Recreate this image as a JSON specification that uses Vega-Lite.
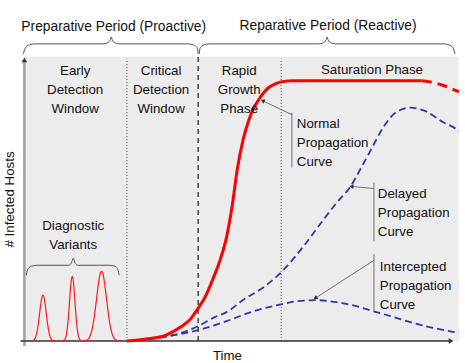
{
  "$schema": "https://vega.github.io/schema/vega-lite/v6.json",
  "width": 465,
  "height": 363,
  "autosize": {"type": "fit", "contains": "padding"},
  "padding": 0,
  "background": "white",
  "config": {"view": {"stroke": null}},
  "datasets": {
    "bg": [{"t": 0, "t2": 445, "h": 0, "h2": 285}],
    "dividers": [
      {"kind": "dotted", "t": 105, "h": 0, "h2": 283},
      {"kind": "dashed", "t": 178, "h": 0, "h2": 289},
      {"kind": "dotted", "t": 263, "h": 0, "h2": 283}
    ],
    "axes": [
      {"axis": "y", "t": 0, "t2": 0, "h": -5, "h2": 281},
      {"axis": "x", "t": -4, "t2": 436, "h": 0, "h2": 0}
    ],
    "axisArrows": [
      {"axis": "y", "t": 0, "h": 282},
      {"axis": "x", "t": 437, "h": 0}
    ],
    "normal": [
      {"t": 105, "h": 0}, {"t": 125, "h": 2}, {"t": 145, "h": 6}, {"t": 160, "h": 14},
      {"t": 170, "h": 22}, {"t": 178, "h": 33}, {"t": 185, "h": 44}, {"t": 193, "h": 62},
      {"t": 200, "h": 80}, {"t": 207, "h": 104}, {"t": 213, "h": 137}, {"t": 218, "h": 172},
      {"t": 224, "h": 202}, {"t": 230, "h": 222}, {"t": 235, "h": 234}, {"t": 240, "h": 242},
      {"t": 245, "h": 249}, {"t": 250, "h": 254}, {"t": 257, "h": 258}, {"t": 264, "h": 260},
      {"t": 275, "h": 261}, {"t": 407, "h": 261}
    ],
    "normalTail": [
      {"t": 407, "h": 261}, {"t": 420, "h": 259}, {"t": 430, "h": 256}, {"t": 440, "h": 252}, {"t": 445, "h": 250}
    ],
    "delayed": [
      {"t": 105, "h": 0}, {"t": 135, "h": 3}, {"t": 160, "h": 8}, {"t": 178, "h": 15},
      {"t": 195, "h": 24}, {"t": 207, "h": 29}, {"t": 225, "h": 42}, {"t": 245, "h": 54},
      {"t": 264, "h": 70}, {"t": 285, "h": 94}, {"t": 305, "h": 120}, {"t": 320, "h": 139},
      {"t": 334, "h": 155}, {"t": 345, "h": 174}, {"t": 355, "h": 192}, {"t": 368, "h": 215},
      {"t": 380, "h": 229}, {"t": 395, "h": 234}, {"t": 412, "h": 230}, {"t": 428, "h": 220},
      {"t": 440, "h": 214}, {"t": 445, "h": 211}
    ],
    "intercepted": [
      {"t": 105, "h": 0}, {"t": 135, "h": 3}, {"t": 160, "h": 7}, {"t": 178, "h": 11},
      {"t": 207, "h": 20}, {"t": 235, "h": 30}, {"t": 264, "h": 37}, {"t": 280, "h": 40},
      {"t": 299, "h": 41}, {"t": 320, "h": 39}, {"t": 340, "h": 35}, {"t": 357, "h": 30},
      {"t": 375, "h": 25}, {"t": 395, "h": 19}, {"t": 415, "h": 14}, {"t": 440, "h": 9},
      {"t": 445, "h": 8}
    ],
    "variants": [
      {"peak": 1, "t": 6, "h": 0}, {"peak": 1, "t": 9, "h": 0.6}, {"peak": 1, "t": 11, "h": 2.9},
      {"peak": 1, "t": 12, "h": 5.5}, {"peak": 1, "t": 13, "h": 9.7}, {"peak": 1, "t": 14, "h": 15.6},
      {"peak": 1, "t": 15, "h": 23}, {"peak": 1, "t": 16, "h": 31.2}, {"peak": 1, "t": 17, "h": 38.7},
      {"peak": 1, "t": 18, "h": 44.1}, {"peak": 1, "t": 19, "h": 46}, {"peak": 1, "t": 20, "h": 44.1},
      {"peak": 1, "t": 21, "h": 38.7}, {"peak": 1, "t": 22, "h": 31.2}, {"peak": 1, "t": 23, "h": 23},
      {"peak": 1, "t": 24, "h": 15.6}, {"peak": 1, "t": 25, "h": 9.7}, {"peak": 1, "t": 26, "h": 5.5},
      {"peak": 1, "t": 27, "h": 2.9}, {"peak": 1, "t": 29, "h": 0.6}, {"peak": 1, "t": 32, "h": 0},
      {"peak": 2, "t": 37, "h": 0}, {"peak": 2, "t": 41, "h": 1.1}, {"peak": 2, "t": 42, "h": 2.9},
      {"peak": 2, "t": 43, "h": 6.5}, {"peak": 2, "t": 44, "h": 13.2}, {"peak": 2, "t": 45, "h": 23.4},
      {"peak": 2, "t": 46, "h": 36.6}, {"peak": 2, "t": 47, "h": 50.4}, {"peak": 2, "t": 48, "h": 61},
      {"peak": 2, "t": 49, "h": 65}, {"peak": 2, "t": 50, "h": 61}, {"peak": 2, "t": 51, "h": 50.4},
      {"peak": 2, "t": 52, "h": 36.6}, {"peak": 2, "t": 53, "h": 23.4}, {"peak": 2, "t": 54, "h": 13.2},
      {"peak": 2, "t": 55, "h": 6.5}, {"peak": 2, "t": 56, "h": 2.9}, {"peak": 2, "t": 57, "h": 1.1},
      {"peak": 2, "t": 61, "h": 0},
      {"peak": 3, "t": 60, "h": 0}, {"peak": 3, "t": 62, "h": 0.3}, {"peak": 3, "t": 65, "h": 1.6},
      {"peak": 3, "t": 67, "h": 4.4}, {"peak": 3, "t": 69, "h": 10.2}, {"peak": 3, "t": 71, "h": 20.4},
      {"peak": 3, "t": 72, "h": 27.3}, {"peak": 3, "t": 73, "h": 35}, {"peak": 3, "t": 74, "h": 43.3},
      {"peak": 3, "t": 75, "h": 51.5}, {"peak": 3, "t": 76, "h": 58.9}, {"peak": 3, "t": 77, "h": 64.8},
      {"peak": 3, "t": 78, "h": 68.7}, {"peak": 3, "t": 79, "h": 70}, {"peak": 3, "t": 80, "h": 68.7},
      {"peak": 3, "t": 81, "h": 64.8}, {"peak": 3, "t": 82, "h": 58.9}, {"peak": 3, "t": 83, "h": 51.5},
      {"peak": 3, "t": 84, "h": 43.3}, {"peak": 3, "t": 85, "h": 35}, {"peak": 3, "t": 86, "h": 27.3},
      {"peak": 3, "t": 87, "h": 20.4}, {"peak": 3, "t": 89, "h": 10.2}, {"peak": 3, "t": 91, "h": 4.4},
      {"peak": 3, "t": 93, "h": 1.6}, {"peak": 3, "t": 96, "h": 0.3}, {"peak": 3, "t": 100, "h": 0}
    ],
    "braces": [
      {"brace": "pre", "t": -1, "h": 288}, {"brace": "pre", "t": 1, "h": 294}, {"brace": "pre", "t": 5, "h": 297},
      {"brace": "pre", "t": 11, "h": 298}, {"brace": "pre", "t": 80, "h": 298}, {"brace": "pre", "t": 85, "h": 299},
      {"brace": "pre", "t": 88, "h": 302}, {"brace": "pre", "t": 89, "h": 305}, {"brace": "pre", "t": 90, "h": 302},
      {"brace": "pre", "t": 93, "h": 299}, {"brace": "pre", "t": 98, "h": 298}, {"brace": "pre", "t": 168, "h": 298},
      {"brace": "pre", "t": 173, "h": 297}, {"brace": "pre", "t": 177, "h": 294}, {"brace": "pre", "t": 178, "h": 288},
      {"brace": "re", "t": 179, "h": 288}, {"brace": "re", "t": 180, "h": 294}, {"brace": "re", "t": 184, "h": 297},
      {"brace": "re", "t": 190, "h": 298}, {"brace": "re", "t": 301, "h": 298}, {"brace": "re", "t": 306, "h": 299},
      {"brace": "re", "t": 309, "h": 302}, {"brace": "re", "t": 310, "h": 305}, {"brace": "re", "t": 311, "h": 302},
      {"brace": "re", "t": 314, "h": 299}, {"brace": "re", "t": 319, "h": 298}, {"brace": "re", "t": 430, "h": 298},
      {"brace": "re", "t": 435, "h": 297}, {"brace": "re", "t": 439, "h": 294}, {"brace": "re", "t": 441, "h": 288},
      {"brace": "diag", "t": 2, "h": 66}, {"brace": "diag", "t": 3, "h": 71}, {"brace": "diag", "t": 7, "h": 75},
      {"brace": "diag", "t": 13, "h": 76}, {"brace": "diag", "t": 45, "h": 76}, {"brace": "diag", "t": 48, "h": 78},
      {"brace": "diag", "t": 50, "h": 83}, {"brace": "diag", "t": 52, "h": 78}, {"brace": "diag", "t": 55, "h": 76},
      {"brace": "diag", "t": 87, "h": 76}, {"brace": "diag", "t": 93, "h": 75}, {"brace": "diag", "t": 96, "h": 71},
      {"brace": "diag", "t": 97, "h": 66}
    ],
    "callouts": [
      {"name": "normal bar", "t": 274, "h": 229, "t2": 274, "h2": 174},
      {"name": "normal arrow", "t": 274, "h": 227, "t2": 244, "h2": 241},
      {"name": "delayed bar", "t": 358, "h": 159, "t2": 358, "h2": 100},
      {"name": "delayed arrow", "t": 358, "h": 153, "t2": 335, "h2": 155},
      {"name": "intercepted bar", "t": 358, "h": 87, "t2": 358, "h2": 30},
      {"name": "intercepted arrow", "t": 358, "h": 81, "t2": 298, "h2": 43}
    ],
    "arrowTips": [
      {"name": "normal", "t": 244, "h": 241},
      {"name": "delayed", "t": 335, "h": 155},
      {"name": "intercepted", "t": 298, "h": 43}
    ],
    "labels": [
      {"role": "period", "label": "Preparative Period (Proactive)", "t": 91.5, "h": 311},
      {"role": "period", "label": "Reparative Period (Reactive)", "t": 311, "h": 312},
      {"role": "region", "label": "Early\nDetection\nWindow", "t": 52, "h": 267},
      {"role": "region", "label": "Critical\nDetection\nWindow", "t": 140, "h": 267},
      {"role": "region", "label": "Rapid\nGrowth\nPhase", "t": 220, "h": 267},
      {"role": "region", "label": "Saturation Phase", "t": 356, "h": 268},
      {"role": "region", "label": "Diagnostic\nVariants", "t": 50, "h": 111},
      {"role": "callout", "label": "Normal\nPropagation\nCurve", "t": 279, "h": 214},
      {"role": "callout", "label": "Delayed\nPropagation\nCurve", "t": 362, "h": 143},
      {"role": "callout", "label": "Intercepted\nPropagation\nCurve", "t": 364, "h": 70},
      {"role": "xtitle", "label": "Time", "t": 208, "h": -19},
      {"role": "ytitle", "label": "# Infected Hosts", "t": -15, "h": 142}
    ]
  },
  "encoding": {
    "x": {"field": "t", "type": "quantitative", "scale": {"domain": [-25, 440], "nice": false, "zero": false}, "axis": null},
    "y": {"field": "h", "type": "quantitative", "scale": {"domain": [-21, 342], "nice": false, "zero": false}, "axis": null}
  },
  "layer": [
    {"data": {"name": "bg"}, "mark": {"type": "rect", "fill": "#ececec"},
     "encoding": {"x2": {"field": "t2"}, "y2": {"field": "h2"}}},
    {"data": {"name": "dividers"}, "transform": [{"filter": "datum.kind === 'dotted'"}],
     "mark": {"type": "rule", "stroke": "#444444", "strokeWidth": 1, "strokeDash": [1, 2]},
     "encoding": {"y2": {"field": "h2"}}},
    {"data": {"name": "dividers"}, "transform": [{"filter": "datum.kind === 'dashed'"}],
     "mark": {"type": "rule", "stroke": "#444444", "strokeWidth": 1.5, "strokeDash": [5, 4]},
     "encoding": {"y2": {"field": "h2"}}},
    {"data": {"name": "axes"}, "transform": [{"filter": "datum.axis === 'y'"}],
     "mark": {"type": "rule", "stroke": "#a0a0a0", "strokeWidth": 2.5},
     "encoding": {"x2": {"field": "t2"}, "y2": {"field": "h2"}}},
    {"data": {"name": "axes"}, "transform": [{"filter": "datum.axis === 'x'"}],
     "mark": {"type": "rule", "stroke": "#333333", "strokeWidth": 1.5},
     "encoding": {"x2": {"field": "t2"}, "y2": {"field": "h2"}}},
    {"data": {"name": "axisArrows"}, "transform": [{"filter": "datum.axis === 'y'"}],
     "mark": {"type": "point", "shape": "triangle-up", "filled": true, "color": "#333333", "size": 30, "opacity": 1}},
    {"data": {"name": "axisArrows"}, "transform": [{"filter": "datum.axis === 'x'"}],
     "mark": {"type": "point", "shape": "triangle-right", "filled": true, "color": "#333333", "size": 30, "opacity": 1}},
    {"data": {"name": "braces"},
     "mark": {"type": "line", "stroke": "#555555", "strokeWidth": 1, "interpolate": "monotone"},
     "encoding": {"detail": {"field": "brace"}}},
    {"data": {"name": "variants"},
     "mark": {"type": "line", "stroke": "#ff1a1a", "strokeWidth": 1.2, "interpolate": "monotone"},
     "encoding": {"detail": {"field": "peak"}}},
    {"data": {"name": "intercepted"},
     "mark": {"type": "line", "stroke": "#3535a6", "strokeWidth": 1.8, "strokeDash": [7, 4], "interpolate": "monotone"}},
    {"data": {"name": "delayed"},
     "mark": {"type": "line", "stroke": "#3535a6", "strokeWidth": 1.8, "strokeDash": [7, 4], "interpolate": "monotone"}},
    {"data": {"name": "normal"},
     "mark": {"type": "line", "stroke": "#ff0000", "strokeWidth": 3, "interpolate": "monotone"}},
    {"data": {"name": "normalTail"},
     "mark": {"type": "line", "stroke": "#ff0000", "strokeWidth": 3, "strokeDash": [10, 6], "interpolate": "monotone"}},
    {"data": {"name": "callouts"},
     "mark": {"type": "rule", "stroke": "#707070", "strokeWidth": 1},
     "encoding": {"x2": {"field": "t2"}, "y2": {"field": "h2"}}},
    {"data": {"name": "arrowTips"}, "transform": [{"filter": "datum.name === 'normal'"}],
     "mark": {"type": "point", "shape": "triangle-up", "filled": true, "color": "#333333", "size": 22, "opacity": 1, "angle": 296}},
    {"data": {"name": "arrowTips"}, "transform": [{"filter": "datum.name === 'delayed'"}],
     "mark": {"type": "point", "shape": "triangle-up", "filled": true, "color": "#333333", "size": 22, "opacity": 1, "angle": 275}},
    {"data": {"name": "arrowTips"}, "transform": [{"filter": "datum.name === 'intercepted'"}],
     "mark": {"type": "point", "shape": "triangle-up", "filled": true, "color": "#333333", "size": 22, "opacity": 1, "angle": 237}},
    {"data": {"name": "labels"}, "transform": [{"filter": "datum.role === 'period'"}],
     "mark": {"type": "text", "font": "Liberation Sans", "fontSize": 13.8, "align": "center", "baseline": "alphabetic", "color": "#111111"},
     "encoding": {"text": {"field": "label"}}},
    {"data": {"name": "labels"}, "transform": [{"filter": "datum.role === 'region'"}],
     "mark": {"type": "text", "font": "Liberation Sans", "fontSize": 13.3, "align": "center", "baseline": "alphabetic", "lineBreak": "\n", "lineHeight": 19, "color": "#111111"},
     "encoding": {"text": {"field": "label"}}},
    {"data": {"name": "labels"}, "transform": [{"filter": "datum.role === 'callout'"}],
     "mark": {"type": "text", "font": "Liberation Sans", "fontSize": 13.3, "align": "left", "baseline": "alphabetic", "lineBreak": "\n", "lineHeight": 19, "color": "#111111"},
     "encoding": {"text": {"field": "label"}}},
    {"data": {"name": "labels"}, "transform": [{"filter": "datum.role === 'xtitle'"}],
     "mark": {"type": "text", "font": "Liberation Sans", "fontSize": 13.3, "align": "center", "baseline": "alphabetic", "color": "#111111"},
     "encoding": {"text": {"field": "label"}}},
    {"data": {"name": "labels"}, "transform": [{"filter": "datum.role === 'ytitle'"}],
     "mark": {"type": "text", "font": "Liberation Sans", "fontSize": 13.3, "align": "center", "baseline": "middle", "angle": 270, "color": "#111111"},
     "encoding": {"text": {"field": "label"}}}
  ]
}
